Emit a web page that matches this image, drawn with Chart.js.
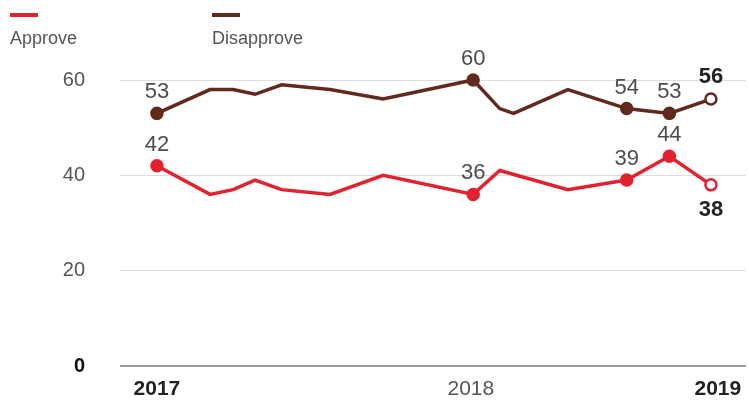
<!DOCTYPE html>
<html>
<head>
<meta charset="utf-8">
<script src="https://cdn.jsdelivr.net/npm/chart.js@4"></script>
<style>
	body { margin: 0; background: #fff; }
	#wrap { position: relative; width: 749px; height: 402px; font-family: 'Liberation Sans', Arial, sans-serif; }
	.key { position: absolute; top: 0; }
	.key .swatch { position: absolute; top: 13px; left: 0; width: 28px; height: 4px; }
	.key .name { position: absolute; top: 28px; left: 0; font-size: 18px; color: #555; white-space: nowrap; }
</style>
</head>
<body>
<div id="wrap">
	<canvas id="chartjs-canvas" width="749" height="402"></canvas>
	<div class="key" style="left:10px"><div class="swatch" style="background:#e3212f"></div><div class="name">Approve</div></div>
	<div class="key" style="left:212px"><div class="swatch" style="background:#62291d"></div><div class="name">Disapprove</div></div>
</div>
<script>
// survey timing, months after the first survey
const disapproveX = [0, 2.3, 3.3, 4.25, 5.4, 7.5, 9.8, 13.7, 14.85, 15.45, 17.8, 20.35, 22.2, 24];
const disapprove = [53, 58, 58, 57, 59, 58, 56, 60, 54, 53, 58, 54, 53, 56];
const approveX = [0, 2.3, 3.3, 4.25, 5.4, 7.5, 9.8, 13.7, 14.85, 17.8, 20.35, 22.2, 24];
const approve = [42, 36, 37, 39, 37, 36, 40, 36, 41, 37, 39, 44, 38];

// which points get a marker and a number
const disapproveLabeled = [0, 7, 11, 12, 13];
const approveLabeled = [0, 7, 10, 11, 12];

const yearTicks = [0, 13.6, 24.3];
const yearLabels = ['2017', '2018', '2019'];
const yTicks = [0, 20, 40, 60];

const RED = '#e3212f';
const BROWN = '#62291d';
const FONT = "'Liberation Sans', Arial, sans-serif";

const toPoints = (xs, ys) => xs.map((x, i) => ({ x, y: ys[i] }));
const radii = (n, marked) => Array.from({ length: n }, (_, i) => marked.includes(i) ? 5.5 : 0);
const fills = (n, color) => Array.from({ length: n }, (_, i) => i === n - 1 ? '#fff' : color);
const isZero = ctx => !!(ctx.tick && ctx.tick.value === 0);
const isMid = ctx => !!(ctx.tick && ctx.tick.value === yearTicks[1]);

const valueLabels = {
	id: 'valueLabels',
	afterDatasetsDraw(chart) {
		const ctx = chart.ctx;
		const sets = [
			{ idx: 0, marked: approveLabeled, below: true },
			{ idx: 1, marked: disapproveLabeled, below: false }
		];
		ctx.save();
		ctx.textAlign = 'center';
		ctx.textBaseline = 'middle';
		sets.forEach(s => {
			const meta = chart.getDatasetMeta(s.idx);
			const data = chart.data.datasets[s.idx].data;
			const last = data.length - 1;
			s.marked.forEach(i => {
				const p = meta.data[i];
				const isLast = i === last;
				ctx.font = (isLast ? 'bold ' : '') + '22px ' + FONT;
				ctx.fillStyle = isLast ? '#222' : '#4d4d4d';
				const dy = isLast ? (s.below ? 25 : -22) : -21;
				ctx.fillText(String(data[i].y), p.x, p.y + dy);
			});
		});
		ctx.restore();
	}
};

const data = {
	datasets: [
		{
			label: 'Approve',
			data: toPoints(approveX, approve),
			borderColor: RED,
			backgroundColor: RED,
			borderWidth: 3.5,
			pointRadius: radii(approve.length, approveLabeled),
			pointBackgroundColor: fills(approve.length, RED),
			pointBorderColor: RED,
			pointBorderWidth: 2.5,
			tension: 0,
			clip: false
		},
		{
			label: 'Disapprove',
			data: toPoints(disapproveX, disapprove),
			borderColor: BROWN,
			backgroundColor: BROWN,
			borderWidth: 3.5,
			pointRadius: radii(disapprove.length, disapproveLabeled),
			pointBackgroundColor: fills(disapprove.length, BROWN),
			pointBorderColor: BROWN,
			pointBorderWidth: 2.5,
			tension: 0,
			clip: false
		}
	]
};

const config = {
	type: 'line',
	data,
	options: {
		responsive: false,
		animation: false,
		layout: { autoPadding: false, padding: { top: 80, right: 3, bottom: 0, left: 0 } },
		plugins: {
			legend: { display: false },
			tooltip: { enabled: false }
		},
		scales: {
			x: {
				type: 'linear',
				min: -1.6,
				max: 25.52,
				grid: { display: false, drawTicks: true, tickLength: 11 },
				border: { display: false },
				afterBuildTicks: scale => { scale.ticks = yearTicks.map(v => ({ value: v })); },
				afterFit: scale => {
					scale.height = 36;
					scale.paddingLeft = 0;
					scale.paddingRight = 0;
				},
				ticks: {
					padding: 0,
					maxRotation: 0,
					autoSkip: false,
					callback: (value) => yearLabels[yearTicks.indexOf(value)],
					color: ctx => isMid(ctx) ? '#555' : '#222',
					font: ctx => ({ family: FONT, size: 21, weight: isMid(ctx) ? 'normal' : 'bold' })
				}
			},
			y: {
				min: 0,
				max: 60,
				afterFit: scale => {
					scale.width = 120;
					scale.paddingTop = 0;
					scale.paddingBottom = 0;
				},
				afterBuildTicks: scale => { scale.ticks = yTicks.map(v => ({ value: v })); },
				border: { display: false },
				grid: {
					drawTicks: false,
					color: ctx => isZero(ctx) ? '#9a9a9a' : '#dcdcdc',
					lineWidth: ctx => isZero(ctx) ? 2 : 1
				},
				ticks: {
					padding: 35,
					color: ctx => isZero(ctx) ? '#111' : '#555',
					font: ctx => ({ family: FONT, size: 20, weight: isZero(ctx) ? 'bold' : 'normal' })
				}
			}
		}
	},
	plugins: [valueLabels]
};

new Chart(document.getElementById('chartjs-canvas'), config);
</script>
</body>
</html>
